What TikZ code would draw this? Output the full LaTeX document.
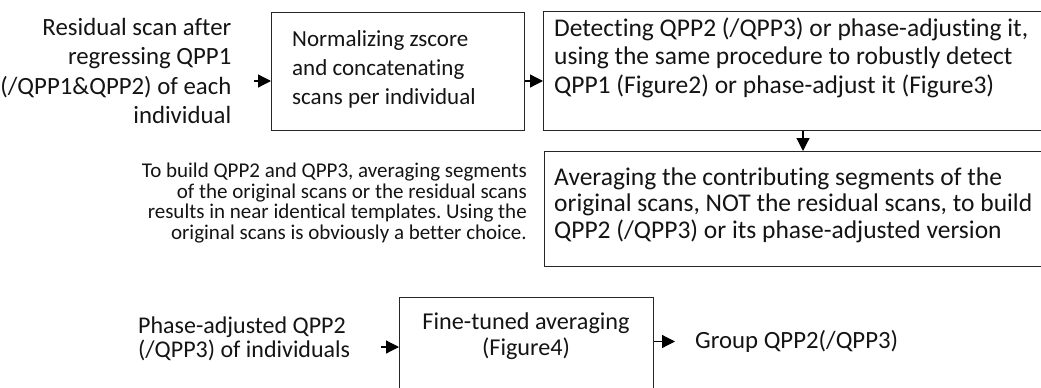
\documentclass[tikz,border=0pt]{standalone}
\usepackage{fontspec}
\setmainfont{Carlito}[Ligatures=NoCommon]
\frenchspacing
\usetikzlibrary{arrows.meta}
\begin{document}
\begin{tikzpicture}[x=1pt,y=-1pt,
  boxshape/.style={draw=black!85, line width=1.2pt, rectangle, inner sep=0pt, anchor=north west},
  txt/.style={inner sep=0pt, text=black!92},
  lefttext/.style={txt, font=\fontsize{24.8}{29.3}\selectfont},
  onetext/.style={txt, font=\fontsize{23}{29}\selectfont},
  twotext/.style={txt, font=\fontsize{25.5}{28.5}\selectfont},
  threetext/.style={txt, font=\fontsize{25.5}{26.5}\selectfont},
  smalltext/.style={txt, font=\fontsize{21}{20.5}\selectfont},
  lowtext/.style={txt, font=\fontsize{24}{23.5}\selectfont},
  fourtext/.style={txt, font=\fontsize{24.2}{26}\selectfont},
  arr/.style={draw=black, line width=1.2pt, -{Triangle[length=13pt,width=13pt]}}]
\useasboundingbox (0,0) rectangle (1041,388);
\clip (0,0) rectangle (1041,388);

% boxes
\node[boxshape, minimum width=253pt, minimum height=118pt] (b1) at (271,12) {};
\node[boxshape, minimum width=540pt, minimum height=119pt] (b2) at (543,10.5) {};
\node[boxshape, minimum width=540pt, minimum height=115pt] (b3) at (544,151) {};
\node[boxshape, minimum width=254pt, minimum height=120pt] (b4) at (399,297) {};

% texts
\node[lefttext, align=right, anchor=east] (lt) at (231.5,71) {Residual scan after\\regressing QPP1\\(/QPP1\&QPP2) of each\\individual};
\node[onetext, align=left, anchor=west] (t1) at (292,69) {Normalizing zscore\\and concatenating\\scans per individual};
\node[twotext, align=left, anchor=west] (t2) at (554,57.5) {Detecting QPP2 (/QPP3) or phase-adjusting it,\\using the same procedure to robustly detect\\QPP1 (Figure2) or phase-adjust it (Figure3)};
\node[threetext, align=left, anchor=west] (t3) at (554,205) {Averaging the contributing segments of the\\original scans, NOT the residual scans, to build\\QPP2 (/QPP3) or its phase-adjusted version};
\node[smalltext, align=right, anchor=east] (mt) at (527,203) {To build QPP2 and QPP3, averaging segments\\of the original scans or the residual scans\\results in near identical templates. Using the\\original scans is obviously a better choice.};
\node[lowtext, align=left, anchor=west] (bl) at (138,339) {Phase-adjusted QPP2\\(/QPP3) of individuals};
\node[fourtext, align=center] (t4) at (526,336.5) {Fine-tuned averaging\\(Figure4)};
\node[lefttext, anchor=west] (gr) at (695,341.5) {Group QPP2(/QPP3)};

% connectors
\coordinate (a1) at (254,81);
\draw[arr] (a1) -- (a1 -| b1.west);
\draw[arr] (b1.east |- a1) -- (b2.west |- a1);
\coordinate (a3) at (803,0);
\draw[arr] (b2.south -| a3) -- (b3.north -| a3);
\coordinate (a4) at (381,347);
\draw[arr] (a4) -- (a4 -| b4.west);
\coordinate (a5) at (675,341.5);
\draw[arr] (b4.east |- a5) -- (a5);
\end{tikzpicture}
\end{document}
